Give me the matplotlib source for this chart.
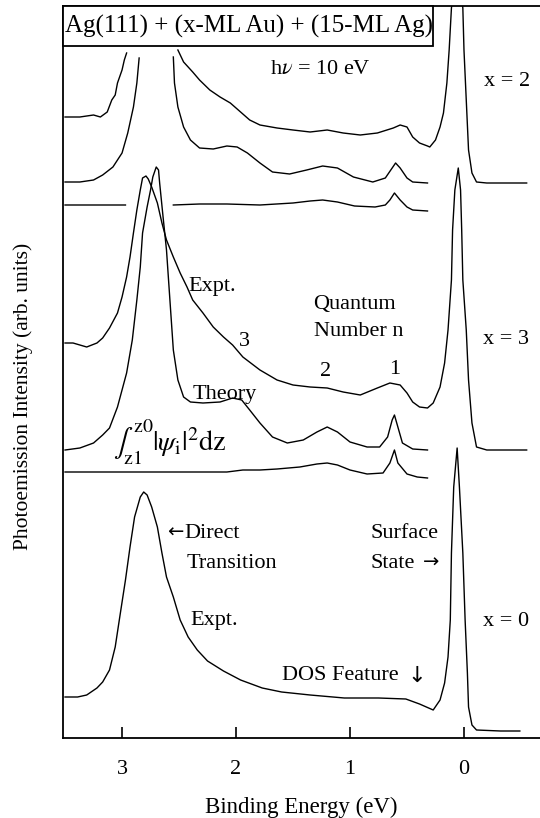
import numpy as np
import matplotlib
matplotlib.use('Agg')
import matplotlib.pyplot as plt
from matplotlib.patches import Rectangle

nan = float('nan')

# x = 2 : experiment (peak at 2.7 eV and surface state go off scale)
x2_expt_E = [3.50, 3.37, 3.25, 3.19, 3.13, 3.09, 3.06, 3.04, 3.00, 2.98, 2.96, 2.70,
             2.51, 2.46, 2.42, 2.38, 2.32, 2.23, 2.14, 2.05, 1.96, 1.88, 1.79, 1.64,
             1.50, 1.35, 1.20, 1.06, 0.91, 0.76, 0.62, 0.56, 0.50, 0.45, 0.39, 0.32,
             0.30, 0.25, 0.21, 0.18, 0.15, 0.13, 0.11, 0.06, 0.01, 0.00, -0.02, -0.04,
             -0.07, -0.11, -0.20, -0.55]
x2_expt_I = [621, 621, 623, 621, 626, 638, 643, 655, 668, 678, 685, nan,
             688, 676, 671, 666, 658, 648, 641, 635, 626, 618, 613, 610,
             608, 606, 608, 605, 603, 605, 610, 613, 611, 601, 595, 592,
             591, 598, 611, 625, 655, 688, 730, 778, 730, 688, 638, 588,
             565, 556, 555, 555]

# x = 2 : theory
x2_theo_E = [3.50, 3.37, 3.25, 3.17, 3.08, 3.00, 2.95, 2.90, 2.87, 2.85, 2.70,
             2.55, 2.54, 2.51, 2.46, 2.40, 2.32, 2.20, 2.08, 1.99, 1.90, 1.79,
             1.68, 1.53, 1.38, 1.24, 1.11, 0.97, 0.80, 0.69, 0.63, 0.60, 0.56,
             0.50, 0.45, 0.32]
x2_theo_I = [556, 556, 558, 563, 571, 585, 605, 631, 655, 680, nan,
             681, 655, 631, 611, 598, 590, 589, 592, 591, 585, 575,
             566, 564, 568, 572, 570, 561, 556, 560, 570, 575, 570,
             560, 556, 555]

# x = 2 : integral of |psi|^2
x2_int_E = [3.50, 3.19, 2.97, 2.70, 2.55, 2.32, 2.08, 1.79, 1.50, 1.35, 1.24, 1.11,
            0.96, 0.78, 0.69, 0.65, 0.61, 0.56, 0.50, 0.45, 0.32]
x2_int_I = [533, 533, 533, nan, 533, 534, 534, 533, 535, 537, 538, 536,
            532, 531, 533, 538, 545, 538, 531, 528, 527]

# x = 3 : experiment
x3_expt_E = [3.50, 3.43, 3.31, 3.22, 3.17, 3.11, 3.04, 3.00, 2.96, 2.93, 2.90, 2.87,
             2.84, 2.82, 2.79, 2.77, 2.74, 2.69, 2.65, 2.61, 2.55, 2.49, 2.43, 2.38,
             2.29, 2.20, 2.11, 2.03, 1.94, 1.79, 1.64, 1.50, 1.35, 1.20, 1.06, 0.91,
             0.76, 0.65, 0.56, 0.50, 0.45, 0.39, 0.32, 0.27, 0.21, 0.17, 0.14, 0.11,
             0.10, 0.08, 0.05, 0.03, 0.02, 0.01, -0.02, -0.04, -0.07, -0.11, -0.20,
             -0.55]
x3_expt_I = [395, 395, 391, 395, 400, 410, 425, 441, 461, 481, 505, 528,
             548, 560, 562, 559, 551, 535, 515, 498, 481, 465, 451, 438,
             425, 411, 401, 393, 381, 368, 358, 353, 351, 350, 346, 343,
             350, 355, 353, 345, 336, 331, 330, 335, 351, 375, 408, 458,
             508, 548, 570, 548, 508, 458, 408, 358, 315, 291, 288,
             288]

# x = 3 : theory
x3_theo_E = [3.50, 3.37, 3.25, 3.17, 3.11, 3.04, 2.96, 2.91, 2.87, 2.84, 2.82, 2.78,
             2.75, 2.73, 2.70, 2.68, 2.67, 2.64, 2.61, 2.58, 2.55, 2.51, 2.46, 2.40,
             2.29, 2.14, 2.03, 1.95, 1.88, 1.79, 1.68, 1.55, 1.41, 1.29, 1.20, 1.11,
             1.00, 0.85, 0.74, 0.67, 0.63, 0.61, 0.58, 0.54, 0.45, 0.32]
x3_theo_I = [288, 290, 295, 303, 310, 331, 365, 398, 438, 471, 505, 531,
             548, 561, 571, 568, 555, 521, 488, 438, 388, 358, 341, 336,
             335, 336, 340, 338, 328, 315, 301, 295, 298, 306, 311, 306,
             296, 291, 291, 301, 318, 323, 311, 295, 289, 288]

# x = 3 : integral of |psi|^2
x3_int_E = [3.50, 2.75, 2.08, 1.94, 1.79, 1.64, 1.44, 1.29, 1.20, 1.11, 1.00, 0.85,
            0.71, 0.65, 0.61, 0.58, 0.50, 0.41, 0.32]
x3_int_I = [266, 266, 266, 268, 268, 269, 271, 274, 275, 273, 268, 264,
            265, 275, 288, 275, 264, 261, 260]

# x = 0 : experiment
x0_expt_E = [3.50, 3.39, 3.31, 3.22, 3.17, 3.11, 3.06, 3.02, 2.97, 2.93, 2.89, 2.84,
             2.81, 2.78, 2.74, 2.69, 2.65, 2.61, 2.55, 2.49, 2.42, 2.34, 2.25, 2.11,
             1.96, 1.77, 1.60, 1.35, 1.05, 0.75, 0.51, 0.39, 0.27, 0.21, 0.17, 0.14,
             0.12, 0.11, 0.09, 0.06, 0.04, 0.01, -0.01, -0.03, -0.04, -0.07, -0.11,
             -0.32, -0.49]
x0_expt_I = [41, 41, 43, 50, 56, 68, 91, 121, 158, 191, 221, 241,
             246, 243, 231, 211, 185, 161, 141, 118, 101, 88, 77, 67,
             58, 50, 46, 43, 40, 40, 39, 34, 28, 38, 55, 81,
             118, 185, 251, 290, 251, 185, 118, 65, 31, 13, 8,
             7, 7]

xticks = [3, 2, 1, 0]

plt.rcParams['font.family'] = ['Liberation Serif', 'DejaVu Serif']
plt.rcParams['mathtext.fontset'] = 'stix'

fig = plt.figure(figsize=(5.4, 8.18), dpi=100)
ax = fig.add_axes([63 / 540, 80 / 818, 477 / 540, 732 / 818])

lw = 1.0
for E, I in [(x2_expt_E, x2_expt_I), (x2_theo_E, x2_theo_I), (x2_int_E, x2_int_I),
             (x3_expt_E, x3_expt_I), (x3_theo_E, x3_theo_I), (x3_int_E, x3_int_I),
             (x0_expt_E, x0_expt_I)]:
    ax.plot(E, I, color='black', lw=lw)

ax.set_xlim(3.518, -0.667)
ax.set_ylim(0, 732)
ax.set_xticks(xticks)
ax.set_xticklabels([str(t) for t in xticks], fontsize=16)
ax.set_yticks([])
ax.tick_params(axis='x', direction='in', length=8, width=1.2, pad=16)
ax.spines['right'].set_visible(False)
for s in ['left', 'bottom', 'top']:
    ax.spines[s].set_linewidth(1.3)

ax.set_xlabel('Binding Energy (eV)', fontsize=16.5, labelpad=13)
ax.set_ylabel('Photoemission Intensity (arb. units)', fontsize=15.5)
ax.yaxis.set_label_coords(-0.062, 0.467)

# title box
ax.add_patch(Rectangle((0.27, 692), 3.518 - 0.27, 40, facecolor='white',
                       edgecolor='black', lw=1.3, zorder=5, clip_on=False))
ax.text(1.89, 712, 'Ag(111) + (x-ML Au) + (15-ML Ag)', fontsize=18,
        ha='center', va='center', zorder=6)

fs = 16
ax.text(1.26, 668, r'h$\nu$ = 10 eV', fontsize=fs, ha='center', va='center')
ax.text(-0.38, 657, 'x = 2', fontsize=fs, ha='center', va='center')
ax.text(-0.37, 398, 'x = 3', fontsize=fs, ha='center', va='center')
ax.text(-0.37, 116, 'x = 0', fontsize=fs, ha='center', va='center')

ax.text(2.42, 451, 'Expt.', fontsize=fs, ha='left', va='center')
ax.text(1.32, 433, 'Quantum', fontsize=fs, ha='left', va='center')
ax.text(1.32, 407, 'Number n', fontsize=fs, ha='left', va='center')
ax.text(1.93, 397, '3', fontsize=fs, ha='center', va='center')
ax.text(1.21, 367, '2', fontsize=fs, ha='center', va='center')
ax.text(0.61, 368, '1', fontsize=fs, ha='center', va='center')
ax.text(2.10, 343, 'Theory', fontsize=fs, ha='center', va='center')
ax.text(3.08, 296, r'$\int_{\rm z1}^{\rm z0}|\psi_{\rm i}|^2{\rm dz}$', fontsize=20.5,
        ha='left', va='center')

arrow_font = ['DejaVu Sans']
ax.text(2.465, 206, '\u2190', fontsize=14, ha='right', va='center', family=arrow_font)
ax.text(2.45, 205, 'Direct', fontsize=fs, ha='left', va='center')
ax.text(2.43, 175, 'Transition', fontsize=fs, ha='left', va='center')
ax.text(0.82, 205, 'Surface', fontsize=fs, ha='left', va='center')
ax.text(0.82, 175, 'State', fontsize=fs, ha='left', va='center')
ax.text(0.29, 176, '\u2192', fontsize=14, ha='center', va='center', family=arrow_font)
ax.text(2.40, 117, 'Expt.', fontsize=fs, ha='left', va='center')
ax.text(1.60, 63, 'DOS Feature', fontsize=fs, ha='left', va='center')
ax.text(0.41, 62, '\u2193', fontsize=16, ha='center', va='center', family=arrow_font)

fig.savefig('out.png', dpi=100)
